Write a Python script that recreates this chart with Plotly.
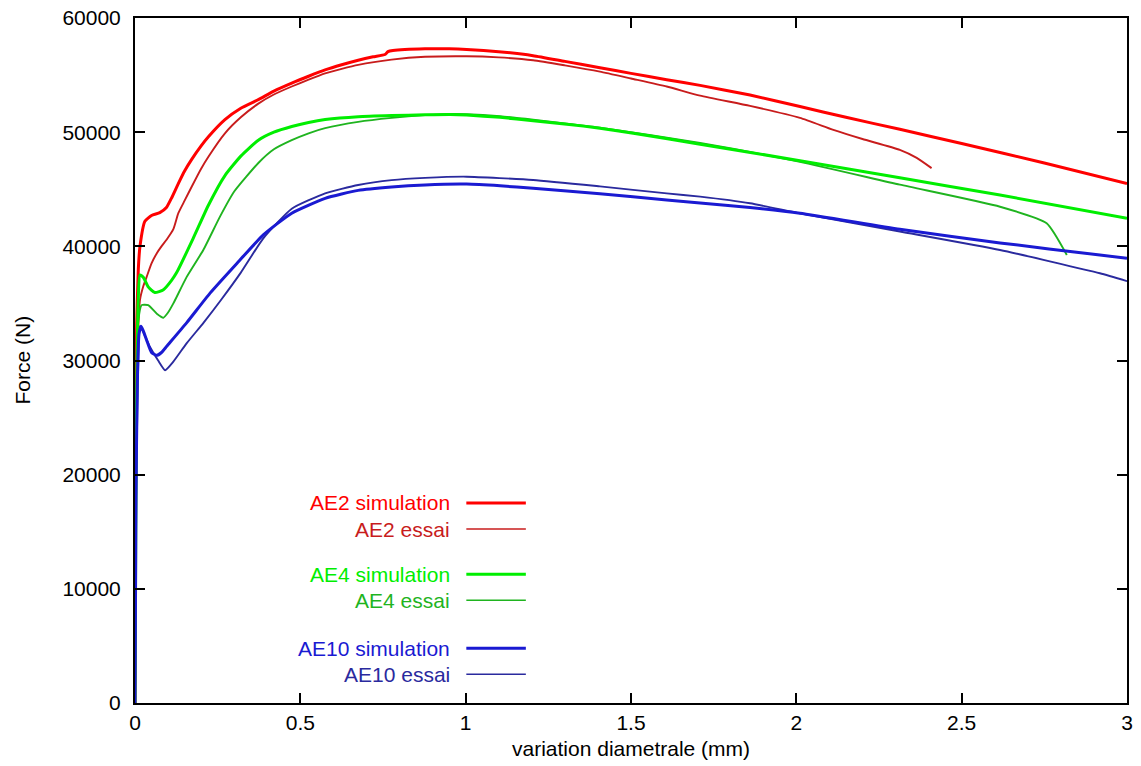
import plotly.graph_objects as go

# ---------------- data ----------------
ae2_sim_x = [0, 0.002, 0.005, 0.010, 0.015, 0.030, 0.050, 0.075, 0.095, 0.110, 0.131, 0.150, 0.171, 0.200,
             0.222, 0.272, 0.320, 0.373, 0.420, 0.474, 0.525, 0.575, 0.625, 0.675, 0.720, 0.756, 0.765,
             0.780, 0.877, 0.950, 1.003, 1.100, 1.204, 1.300, 1.406, 1.500, 1.608, 1.709, 1.860, 2.011,
             2.150, 2.313, 2.500, 2.750, 3.000]
ae2_sim_y = [0, 25000, 33000, 38000, 40000, 42200, 42700, 42950, 43400, 44200, 45500, 46600, 47600, 48800,
             49600, 51100, 52100, 52850, 53600, 54300, 54900, 55450, 55900, 56300, 56600, 56800, 57050,
             57150, 57300, 57300, 57250, 57050, 56700, 56200, 55650, 55150, 54600, 54100, 53250, 52250,
             51300, 50250, 49000, 47300, 45500]

ae2_exp_x = [0, 0.002, 0.005, 0.010, 0.015, 0.025, 0.035, 0.050, 0.066, 0.080, 0.096, 0.116, 0.131, 0.150,
             0.171, 0.200, 0.222, 0.272, 0.320, 0.373, 0.420, 0.474, 0.525, 0.575, 0.625, 0.675, 0.776,
             0.877, 1.003, 1.100, 1.204, 1.300, 1.406, 1.500, 1.608, 1.709, 1.860, 2.011, 2.112, 2.200,
             2.313, 2.364, 2.409]
ae2_exp_y = [0, 15000, 28500, 33000, 35300, 36500, 37300, 38500, 39400, 40000, 40600, 41500, 42900, 44000,
             45200, 46800, 47850, 49900, 51300, 52500, 53300, 54000, 54600, 55150, 55550, 55900, 56350,
             56600, 56650, 56550, 56300, 55850, 55300, 54700, 54000, 53200, 52300, 51250, 50200, 49400,
             48450, 47750, 46850]

ae4_sim_x = [0, 0.003, 0.006, 0.010, 0.015, 0.025, 0.040, 0.060, 0.086, 0.110, 0.126, 0.176, 0.222, 0.272,
             0.320, 0.373, 0.420, 0.474, 0.525, 0.575, 0.675, 0.776, 0.877, 0.953, 1.003, 1.104, 1.204,
             1.306, 1.406, 1.507, 1.709, 2.011, 2.313, 2.616, 3.000]
ae4_sim_y = [0, 20000, 30000, 35500, 37500, 37300, 36450, 35950, 36200, 37000, 37700, 40700, 43600, 46200,
             47900, 49300, 50000, 50500, 50850, 51100, 51350, 51450, 51520, 51550, 51500, 51300, 51000,
             50700, 50350, 49900, 48950, 47500, 46000, 44500, 42450]

ae4_exp_x = [0, 0.002, 0.005, 0.010, 0.020, 0.040, 0.066, 0.086, 0.100, 0.116, 0.156, 0.207, 0.257, 0.300,
             0.373, 0.420, 0.474, 0.525, 0.575, 0.675, 0.776, 0.877, 0.953, 1.003, 1.104, 1.204, 1.306,
             1.406, 1.709, 2.011, 2.313, 2.616, 2.757, 2.818]
ae4_exp_y = [0, 15000, 30000, 33500, 34850, 34850, 34100, 33750, 34200, 35000, 37300, 39700, 42600, 44800,
             47300, 48500, 49300, 49900, 50350, 50900, 51250, 51500, 51600, 51580, 51400, 51100, 50750,
             50400, 49050, 47400, 45400, 43470, 42020, 39240]

ae10_sim_x = [0, 0.003, 0.007, 0.012, 0.018, 0.025, 0.035, 0.050, 0.066, 0.080, 0.096, 0.156, 0.227, 0.308,
              0.388, 0.474, 0.575, 0.675, 0.776, 0.877, 1.003, 1.104, 1.204, 1.406, 1.608, 1.709, 1.860,
              2.011, 2.313, 2.616, 2.918, 3.000]
ae10_sim_y = [0, 18000, 28000, 32300, 33000, 32600, 31800, 30700, 30450, 30700, 31250, 33300, 35900, 38500,
              41000, 42900, 44200, 44900, 45200, 45380, 45450, 45300, 45080, 44600, 44060, 43800, 43400,
              42900, 41500, 40300, 39240, 38950]

ae10_exp_x = [0, 0.002, 0.005, 0.010, 0.015, 0.025, 0.045, 0.070, 0.091, 0.116, 0.156, 0.207, 0.260, 0.320,
              0.388, 0.474, 0.575, 0.675, 0.776, 0.877, 1.003, 1.204, 1.406, 1.608, 1.709, 1.860, 2.011,
              2.313, 2.616, 2.918, 3.000]
ae10_exp_y = [0, 10000, 22000, 30000, 33000, 32500, 31200, 30000, 29150, 29900, 31500, 33300, 35300, 37700,
              40700, 43300, 44640, 45370, 45800, 46000, 46100, 45810, 45250, 44640, 44350, 43770, 42890,
              41300, 39680, 37640, 36950]

x_ticks = [0, 0.5, 1, 1.5, 2, 2.5, 3]
x_tick_labels = ["0", "0.5", "1", "1.5", "2", "2.5", "3"]
y_ticks = [0, 10000, 20000, 30000, 40000, 50000, 60000]
y_tick_labels = ["0", "10000", "20000", "30000", "40000", "50000", "60000"]

series_names = ["AE2 simulation", "AE2 essai", "AE4 simulation", "AE4 essai", "AE10 simulation", "AE10 essai"]
x_title = "variation diametrale (mm)"
y_title = "Force (N)"

# ---------------- styling ----------------
FONT = "Liberation Sans, Arial, Helvetica, sans-serif"
colors = ["#ff0000", "#c81c1c", "#00ee00", "#1fb41f", "#1a1ad2", "#2a2a9e"]
widths = [3.0, 1.9, 3.0, 1.9, 3.0, 1.9]
series = [(ae2_sim_x, ae2_sim_y), (ae2_exp_x, ae2_exp_y), (ae4_sim_x, ae4_sim_y),
          (ae4_exp_x, ae4_exp_y), (ae10_sim_x, ae10_sim_y), (ae10_exp_x, ae10_exp_y)]

fig = go.Figure()
order = [1, 3, 5, 0, 2, 4]
for i in order:
    xs, ys = series[i]
    fig.add_trace(go.Scatter(x=xs, y=ys, mode="lines", name=series_names[i],
                             line=dict(color=colors[i], width=widths[i], shape="spline", smoothing=0.5),
                             showlegend=False))

# custom legend (text right-aligned, sample line to the right)
legend_rows_y = [0.292, 0.254, 0.188, 0.150, 0.080, 0.042]
legend_widths = [3.0, 1.5, 3.0, 1.5, 3.0, 1.5]
for i, name in enumerate(series_names):
    fig.add_annotation(x=0.3196, y=legend_rows_y[i], xref="paper", yref="paper",
                       text=name, showarrow=False, xanchor="right", yanchor="middle",
                       font=dict(family=FONT, size=21, color=colors[i]))
    fig.add_shape(type="line", xref="paper", yref="paper",
                  x0=0.334, x1=0.394, y0=legend_rows_y[i], y1=legend_rows_y[i],
                  line=dict(color=colors[i], width=legend_widths[i]))

# axis titles as annotations for exact placement
fig.add_annotation(x=0.5, y=0, xref="paper", yref="paper", text=x_title, showarrow=False,
                   xanchor="center", yanchor="middle", yshift=-45,
                   font=dict(family=FONT, size=21, color="black"))
fig.add_annotation(x=0, y=0.5, xref="paper", yref="paper", text=y_title, showarrow=False,
                   xanchor="center", yanchor="middle", xshift=-113, textangle=-90,
                   font=dict(family=FONT, size=21, color="black"))

axis_common = dict(showline=True, linecolor="black", linewidth=2, mirror="ticks",
                   ticks="inside", ticklen=10, tickwidth=1.6, tickcolor="black",
                   showgrid=False, zeroline=False, automargin=False, ticklabeloverflow="allow",
                   tickfont=dict(family=FONT, size=21, color="black"))

fig.update_xaxes(range=[0, 3], tickvals=x_ticks, ticktext=x_tick_labels, **axis_common)
fig.update_yaxes(range=[0, 60000], tickvals=y_ticks, ticktext=y_tick_labels, ticklabelstandoff=8,
                 **axis_common)

fig.update_layout(width=1141, height=766, margin=dict(l=135, r=14, t=18, b=63),
                  plot_bgcolor="white", paper_bgcolor="white",
                  font=dict(family=FONT, color="black"))

# remove the default 8px page margin so the figure sits at the window's top-left corner
fig.write_html("out.html", config={"displayModeBar": False},
               post_script="document.body.style.margin='0px';document.body.style.overflow='hidden';")
